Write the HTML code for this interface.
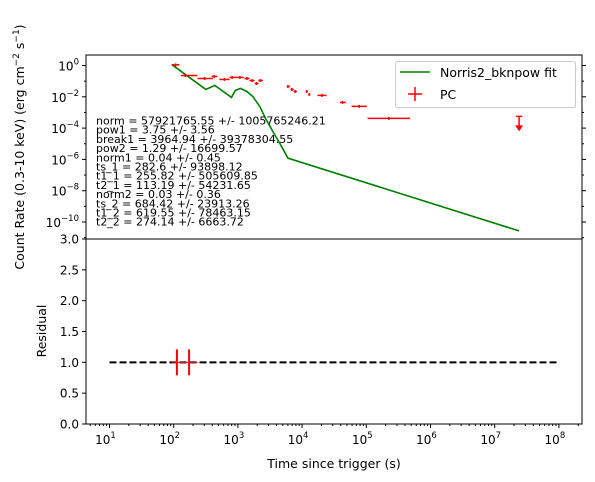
<!DOCTYPE html>
<html><head><meta charset="utf-8"><style>
html,body{margin:0;padding:0;background:#fff;}
svg{display:block;font-family:"DejaVu Sans","Liberation Sans",sans-serif;}
</style></head><body>
<svg id="chart" width="595" height="482" xmlns="http://www.w3.org/2000/svg">
<g id="topPanel"></g>
<g id="botPanel"></g>
</svg>
<script>
const pcLogT   = [2.03,2.18,2.48,2.63,2.79,2.91,3.03,3.14,3.22,3.29,3.35,3.78,3.84,3.89,4.07,4.11,4.31,4.63,4.89,5.35];
const pcLogLo  = [1.97,2.11,2.37,2.59,2.71,2.87,2.96,3.10,3.18,3.26,3.32,3.76,3.82,3.87,4.06,4.10,4.24,4.59,4.77,5.02];
const pcLogHi  = [2.09,2.37,2.61,2.68,2.87,2.96,3.09,3.18,3.26,3.32,3.39,3.81,3.87,3.92,4.09,4.13,4.38,4.68,5.01,5.68];
const pcLogRate= [0.04,-0.64,-0.83,-0.70,-0.89,-0.76,-0.76,-0.83,-0.96,-1.15,-0.96,-1.34,-1.53,-1.66,-1.66,-1.85,-1.91,-2.36,-2.61,-3.38];
const ulLogT = 7.38, ulLogRate = -3.25;
const fitLogT    = [1.97,2.50,2.64,2.90,2.96,3.04,3.14,3.23,3.34,3.43,3.56,3.67,3.78,7.38];
const fitLogRate = [0.06,-1.53,-1.27,-2.04,-1.59,-1.46,-1.66,-1.97,-2.61,-3.38,-4.33,-5.10,-5.92,-10.57];
const resLogT = [2.05,2.24];
const resLogLo = [1.97,2.11];
const resLogHi = [2.16,2.37];
const resVal = [1.0,1.0];
const resErr = [0.21,0.21];
const params = ["norm = 57921765.55 +/- 1005765246.21","pow1 = 3.75 +/- 3.56","break1 = 3964.94 +/- 39378304.55","pow2 = 1.29 +/- 16699.57","norm1 = 0.04 +/- 0.45","ts_1 = 282.6 +/- 93898.12","t1_1 = 255.82 +/- 505609.85","t2_1 = 113.19 +/- 54231.65","norm2 = 0.03 +/- 0.36","ts_2 = 684.42 +/- 23913.26","t1_2 = 619.55 +/- 78463.15","t2_2 = 274.14 +/- 6663.72"];
const yTopTicks = [0,-2,-4,-6,-8,-10];
const yBotTicks = [0,0.5,1,1.5,2,2.5,3];
const xTicks = [1,2,3,4,5,6,7,8];

const NS="http://www.w3.org/2000/svg";
const L=86,R=582,T1=55,B1=239,B2=424;
const X=lt=>109.5+(lt-1)*64.2;
const Y1=lr=>65.5-lr*15.65;
const Y2=v=>B2-v*(B2-B1)/3;
function mk(parent,tag,attrs,text){const e=document.createElementNS(NS,tag);for(const k in attrs)e.setAttribute(k,attrs[k]);if(text!==undefined)e.textContent=text;parent.appendChild(e);return e;}
const topG=document.getElementById('topPanel'), botG=document.getElementById('botPanel');

let f=mk(topG,'rect',{x:L,y:T1,width:R-L,height:B1-T1,fill:'none',stroke:'#000','stroke-width':1});


f=mk(botG,'rect',{x:L,y:B1,width:R-L,height:B2-B1,fill:'none',stroke:'#000','stroke-width':1});



yTopTicks.forEach(v=>{const y=Y1(v);
 mk(topG,'line',{x1:L-4,x2:L,y1:y,y2:y,stroke:'#000'});mk(topG,'line',{x1:R,x2:R+4,y1:y,y2:y,stroke:'#000'});
 const t=mk(topG,'text',{x:L-7,y:y+5,'text-anchor':'end','font-size':12});
 
 
 t.textContent='10';mk(t,'tspan',{dy:-6,'font-size':8.5},v===0?'0':'−'+(-v));
});
for(let d=-11;d<=1;d++){ if(d%2===0)continue; const y=Y1(d); if(y<T1||y>B1)continue;
 mk(topG,'line',{x1:L-2,x2:L,y1:y,y2:y,stroke:'#000'});mk(topG,'line',{x1:R,x2:R+2,y1:y,y2:y,stroke:'#000'});}
yBotTicks.forEach(v=>{const y=Y2(v);
 mk(botG,'line',{x1:L-4,x2:L,y1:y,y2:y,stroke:'#000'});
 const t=mk(botG,'text',{x:L-7,y:y+4.5,'text-anchor':'end','font-size':12},v.toFixed(1));
 
 });
xTicks.forEach(v=>{const x=X(v);
 mk(botG,'line',{x1:x,x2:x,y1:B2,y2:B2+4,stroke:'#000'});
 const t=mk(botG,'text',{x:x-4,y:B2+20,'text-anchor':'middle','font-size':12});
 
 
 t.textContent='10';mk(t,'tspan',{dy:-6,'font-size':8.5},String(v));
});
for(let d=0;d<=8;d++)for(let m=2;m<=9;m++){const x=X(d+Math.log10(m));if(x<=L||x>=R)continue;
 mk(botG,'line',{x1:x,x2:x,y1:B2,y2:B2+2,stroke:'#000'});}

let p=mk(topG,'polyline',{points:fitLogT.map((t,i)=>X(t)+','+Y1(fitLogRate[i])).join(' '),fill:'none',stroke:'green','stroke-width':1.6});


pcLogT.forEach((t,i)=>{const g=mk(topG,'g',{stroke:'red','stroke-width':1.5});
 
 
 const y=Y1(pcLogRate[i]);
 mk(g,'line',{x1:X(pcLogLo[i]),x2:X(pcLogHi[i]),y1:y,y2:y});
 mk(g,'line',{x1:X(t),x2:X(t),y1:y-1.5,y2:y+1.5});});
const ug=mk(topG,'g',{stroke:'red',fill:'red'});


const ux=X(ulLogT),uy=Y1(ulLogRate);
mk(ug,'line',{x1:ux-3,x2:ux+3,y1:uy,y2:uy,'stroke-width':1.5});
mk(ug,'line',{x1:ux,x2:ux,y1:uy,y2:uy+10,'stroke-width':1.5});
mk(ug,'polygon',{points:`${ux-4},${uy+9} ${ux+4},${uy+9} ${ux},${uy+15}`,stroke:'none'});
params.forEach((s,i)=>{const t=mk(topG,'text',{x:96,y:124.5+i*9.2,'font-size':11},s);
 
 });
const lg=mk(topG,'g',{});


mk(lg,'rect',{x:395.5,y:61.5,width:180,height:46,rx:2,fill:'#fff','fill-opacity':0.8,stroke:'#ccc'});
mk(lg,'line',{x1:400,x2:430,y1:72,y2:72,stroke:'green','stroke-width':1.6});
mk(lg,'text',{x:440,y:77,'font-size':12.5},'Norris2_bknpow fit');
mk(lg,'line',{x1:408,x2:422,y1:94,y2:94,stroke:'red','stroke-width':1.5});
mk(lg,'line',{x1:415,x2:415,y1:87,y2:101,stroke:'red','stroke-width':1.5});
mk(lg,'text',{x:440,y:99,'font-size':12.5},'PC');

let dl=mk(botG,'line',{x1:X(1),x2:X(8),y1:Y2(1),y2:Y2(1),stroke:'#000','stroke-width':2,'stroke-dasharray':'7,3'});


resLogT.forEach((t,i)=>{const g=mk(botG,'g',{stroke:'red','stroke-width':2});
 
 
 const y=Y2(resVal[i]);
 mk(g,'line',{x1:X(resLogLo[i]),x2:X(resLogHi[i]),y1:y,y2:y,'stroke-width':1});
 mk(g,'line',{x1:X(t),x2:X(t),y1:Y2(resVal[i]+resErr[i]),y2:Y2(resVal[i]-resErr[i])});});

let at=mk(botG,'text',{x:334,y:468,'text-anchor':'middle','font-size':12.5},'Time since trigger (s)');


at=mk(botG,'text',{x:0,y:0,'text-anchor':'middle','font-size':12.5,transform:'translate(46,331) rotate(-90)'},'Residual');


at=mk(topG,'text',{x:0,y:0,'text-anchor':'middle','font-size':12.5,transform:'translate(24,147) rotate(-90)'});


at.textContent='Count Rate (0.3-10 keV) (erg cm';
mk(at,'tspan',{dy:-5,'font-size':9},'−2');
mk(at,'tspan',{dy:5},' s');
mk(at,'tspan',{dy:-5,'font-size':9},'−1');
mk(at,'tspan',{dy:5},')');
</script>
</body></html>
